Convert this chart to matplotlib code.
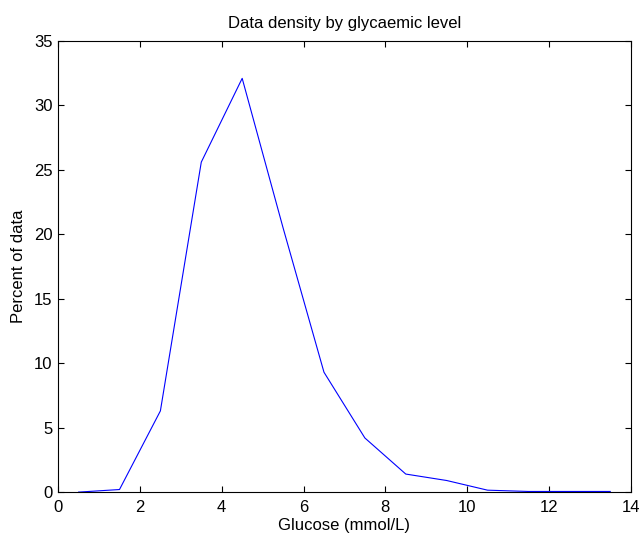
import matplotlib
matplotlib.use("Agg")
import matplotlib.pyplot as plt

glucose = [0.5, 1.5, 2.5, 3.5, 4.5, 5.5, 6.5, 7.5, 8.5, 9.5, 10.5, 11.5, 12.5, 13.5]
percent = [0.0, 0.2, 6.3, 25.6, 32.1, 20.5, 9.3, 4.2, 1.4, 0.9, 0.15, 0.05, 0.05, 0.05]

x_ticks = [0, 2, 4, 6, 8, 10, 12, 14]
y_ticks = [0, 5, 10, 15, 20, 25, 30, 35]


def main():
    plt.rcParams["font.family"] = ["Liberation Sans", "DejaVu Sans"]
    plt.rcParams["font.size"] = 12

    fig = plt.figure(figsize=(6.39, 5.39), dpi=100)
    ax = fig.add_axes([0.091, 0.087, 0.896, 0.837])

    ax.plot(glucose, percent, color="#0000ff", linewidth=0.8)

    ax.set_xlim(0, 14)
    ax.set_ylim(0, 35)
    ax.set_xticks(x_ticks)
    ax.set_yticks(y_ticks)
    ax.tick_params(direction="in", top=True, right=True, length=4, width=0.8)
    ax.tick_params(axis="x", pad=6)
    ax.tick_params(axis="y", pad=4)
    for s in ax.spines.values():
        s.set_linewidth(0.8)

    ax.set_title("Data density by glycaemic level", fontsize=12, pad=9)
    ax.set_xlabel("Glucose (mmol/L)", labelpad=2)
    ax.set_ylabel("Percent of data", labelpad=6)

    fig.savefig("out.png", dpi=100)


if __name__ == "__main__":
    main()
